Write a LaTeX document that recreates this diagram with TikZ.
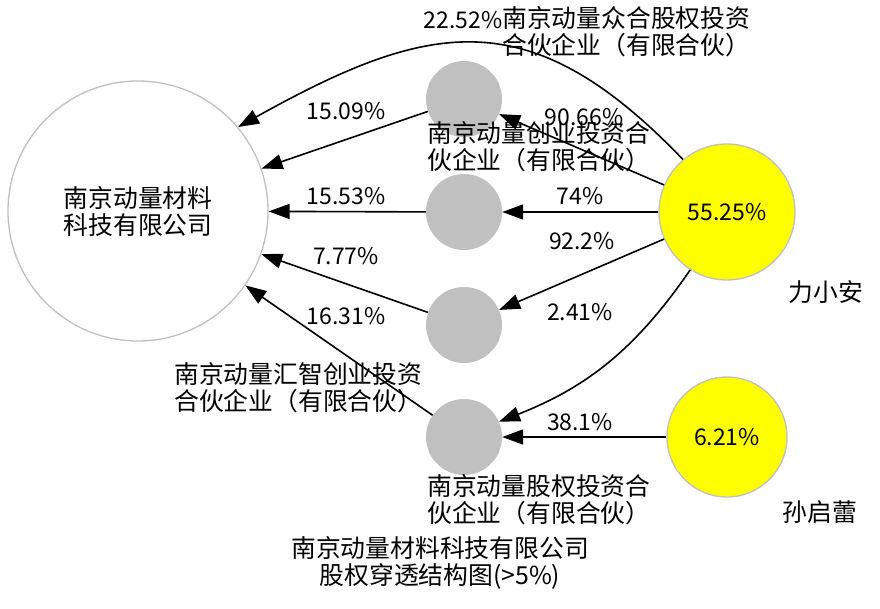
\documentclass[tikz,border=0pt]{standalone}
\usepackage{fontspec}
\setmainfont{Noto Sans CJK SC}
\usetikzlibrary{arrows.meta}
\definecolor{entgray}{HTML}{C0C0C0}
\definecolor{persyellow}{HTML}{FFFF00}
\begin{document}
\begin{tikzpicture}[x=1pt,y=-1pt,
  every node/.style={font=\fontsize{24.8}{27}\selectfont, inner sep=0pt},
  entity/.style={circle, fill=entgray, minimum size=76pt},
  target/.style={circle, fill=white, draw=entgray, line width=1.3pt, minimum size=260pt, align=center},
  person/.style={circle, fill=persyellow, draw=entgray, line width=1.3pt},
  link/.style={line width=1.6pt, -{Triangle[length=21pt,width=15pt]}},
  lbl/.style={align=left, anchor=west},
  pct/.style={font=\fontsize{23}{27}\selectfont}
]
\useasboundingbox (0,0) rectangle (880,608);

% nodes
\node[target] (big) at (138,211) {南京动量材料\\科技有限公司};
\node[entity] (g1) at (464,99) {};
\node[entity] (g2) at (464,212) {};
\node[entity] (g3) at (464,325) {};
\node[entity] (g4) at (464,437) {};
\node[person, minimum size=136pt, font=\fontsize{23}{27}\selectfont] (p1) at (727,212) {55.25\%};
\node[person, minimum size=120pt, font=\fontsize{23}{27}\selectfont] (p2) at (727,437) {6.21\%};

% names
\node[lbl] (n0) at (502,32) {南京动量众合股权投资\\合伙企业（有限合伙）};
\node[lbl] (n1) at (427,147) {南京动量创业投资合\\伙企业（有限合伙）};
\node[lbl] (n3) at (174,388) {南京动量汇智创业投资\\合伙企业（有限合伙）};
\node[lbl] (n4) at (427,500) {南京动量股权投资合\\伙企业（有限合伙）};
\node (np1) at (826,292) {力小安};
\node (np2) at (820,512) {孙启蕾};
\node[align=center] (title) at (440,563) {南京动量材料科技有限公司\\股权穿透结构图(>5\%)};

% edges
\draw[link] (p1.130) .. controls (530,0) and (430,20) .. (big.40);
\draw[link] (g1) -- (big);
\draw[link] (p1) -- (g1);
\draw[link] (g2) -- (big);
\draw[link] (p1) -- (g2);
\draw[link] (p1) -- (g3);
\draw[link] (g3) -- (big);
\draw[link] (p1) to[bend left=17] (g4);
\draw[link] (g4) -- (big);
\draw[link] (p2) -- (g4);

% percentages
\node[pct] (e1) at (463,20) {22.52\%};
\node[pct] (e2) at (346,111) {15.09\%};
\node[pct] (e3) at (584,117) {90.66\%};
\node[pct] (e4) at (346,196) {15.53\%};
\node[pct] (e5) at (580,196) {74\%};
\node[pct] (e6) at (582,241) {92.2\%};
\node[pct] (e7) at (346,256) {7.77\%};
\node[pct] (e8) at (580,312) {2.41\%};
\node[pct] (e9) at (346,316) {16.31\%};
\node[pct] (e10) at (580,422) {38.1\%};
\end{tikzpicture}
\end{document}
